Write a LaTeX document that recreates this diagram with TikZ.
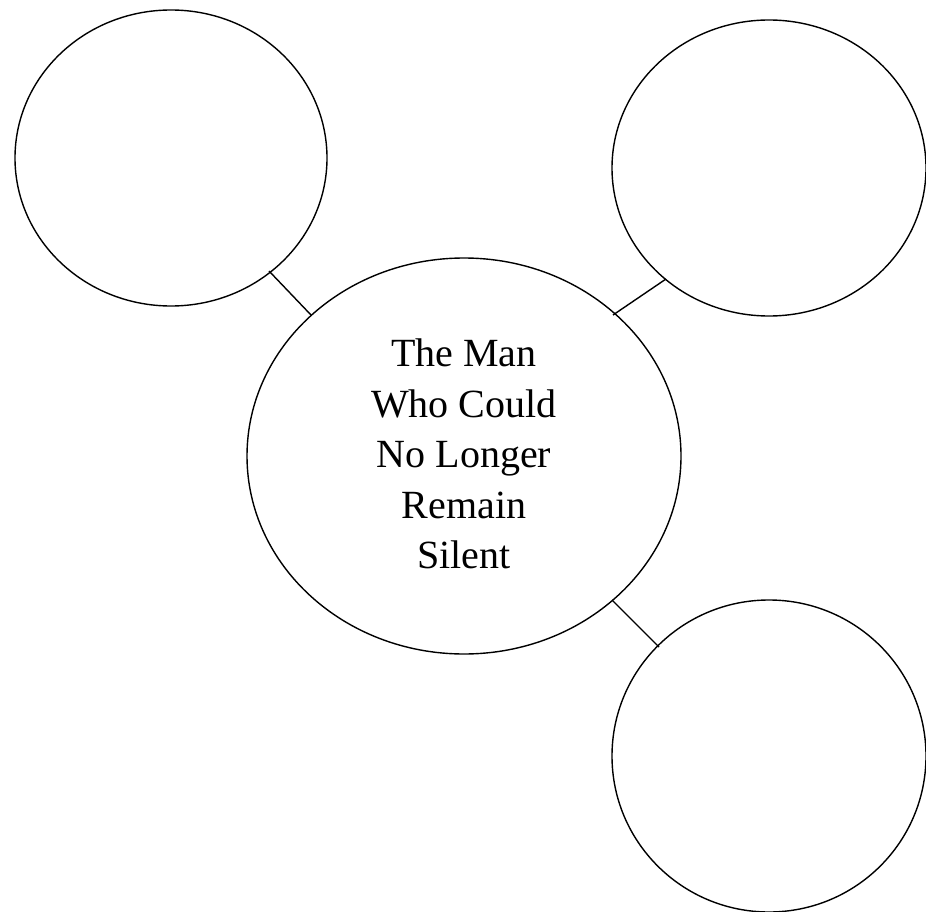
\documentclass[tikz,border=0pt]{standalone}
\usepackage{fontspec}
\setmainfont{Liberation Serif}
\begin{document}
\begin{tikzpicture}[x=1pt,y=-1pt,
  bubble/.style={draw=black,line width=1.4pt},
  link/.style={draw=black,line width=1.4pt},
  title/.style={font=\fontsize{40}{50.4}\selectfont,align=center}]
\useasboundingbox (0,0) rectangle (926,912);
\draw[bubble] (171,158) ellipse [x radius=156,y radius=148];
\draw[bubble] (769,168) ellipse [x radius=157,y radius=148];
\draw[bubble] (464,456) ellipse [x radius=217,y radius=198];
\draw[bubble] (769,756) ellipse [x radius=157,y radius=156];
\coordinate (tl) at (269,271);
\coordinate (ctl) at (311,315);
\coordinate (tr) at (666,279);
\coordinate (ctr) at (613,315);
\coordinate (br) at (659,647);
\coordinate (cbr) at (612,600);
\draw[link] (tl) -- (ctl);
\draw[link] (tr) -- (ctr);
\draw[link] (br) -- (cbr);
\node[title] (center) at (464,454) {The Man\\Who Could\\No Longer\\Remain\\Silent};
\end{tikzpicture}
\end{document}
